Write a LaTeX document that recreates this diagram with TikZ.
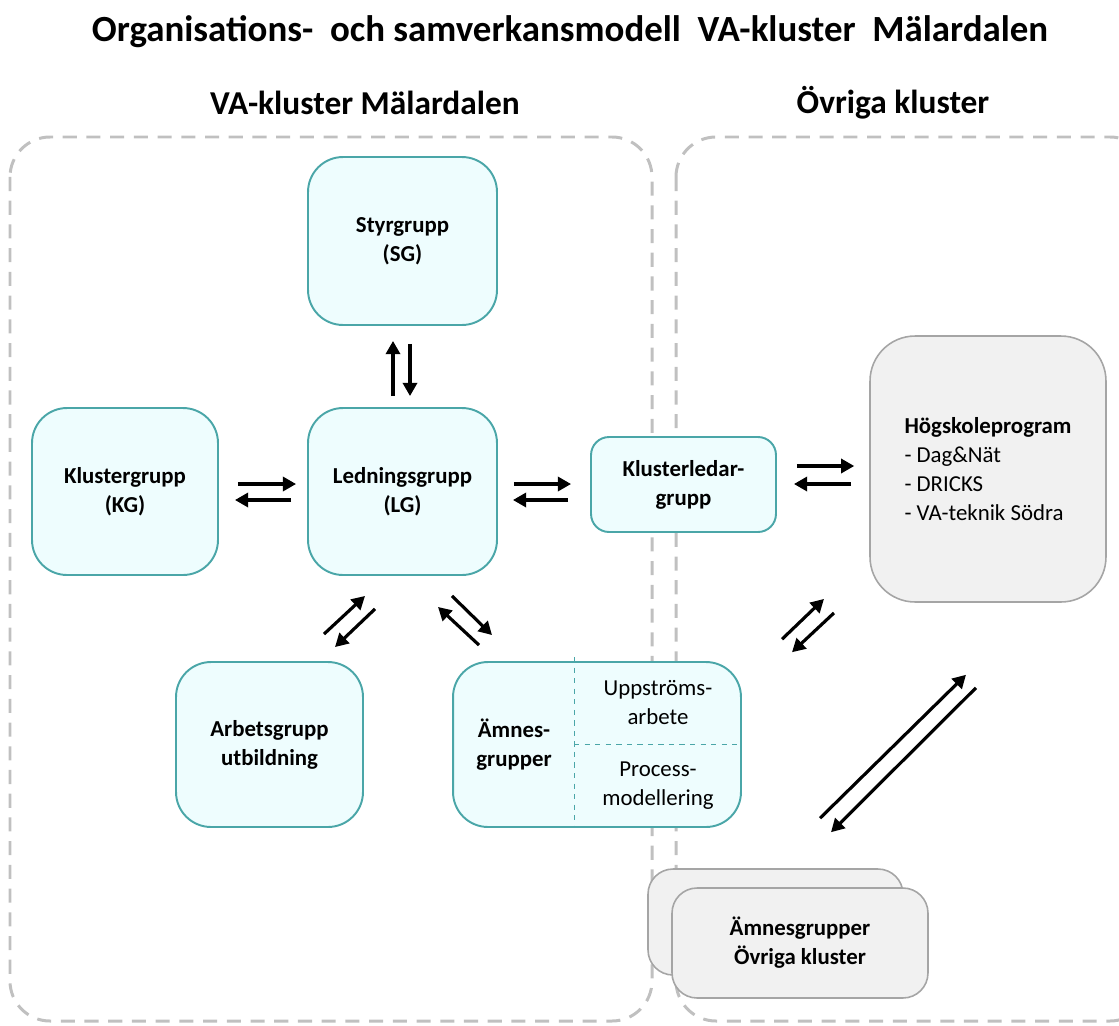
\documentclass[tikz,border=0pt]{standalone}
\usepackage{fontspec}
\setmainfont{Carlito}
\usetikzlibrary{arrows.meta,calc}
\definecolor{tealline}{RGB}{74,166,168}
\definecolor{tealfill}{RGB}{238,253,254}
\definecolor{greyline}{RGB}{165,165,165}
\definecolor{greyfill}{RGB}{241,241,241}
\definecolor{dashgrey}{RGB}{192,192,192}
\begin{document}
\begin{tikzpicture}[x=0.02cm,y=-0.02cm,
  box/.style={draw=tealline,fill=tealfill,line width=1.1pt,inner sep=0pt,align=center,
    rounded corners=0.7cm,font=\bfseries\fontsize{13}{16.5}\selectfont},
  greybox/.style={draw=greyline,fill=greyfill,line width=0.9pt,inner sep=0pt,align=center,
    font=\bfseries\fontsize{13}{16.5}\selectfont},
  frame/.style={draw=dashgrey,line width=1.7pt,dash pattern=on 8pt off 5.5pt,rounded corners=0.8cm},
  arr/.style={line width=1.8pt,-{Triangle[length=7.5pt,width=8pt]}},
  head/.style={font=\bfseries\fontsize{19}{22}\selectfont}]
  \useasboundingbox (0,0) rectangle (1119,1025);
  % titles and cluster frames
  \node[font=\bfseries\fontsize{21}{24}\selectfont] (title) at (570,32) {Organisations-\ \ och samverkansmodell\ \ VA-kluster\ \ Mälardalen};
  \node[head] (vahead) at (365,103) {VA-kluster Mälardalen};
  \node[head] (ovhead) at (893,103) {Övriga kluster};
  \draw[frame] (10,137) rectangle (652,1021);
  \draw[frame] (676,137) rectangle (1150,1021);
  % groups in VA-kluster
  \node[box,minimum width=3.78cm,minimum height=3.36cm] (sg) at (402.5,241) {Styrgrupp\\(SG)};
  \node[box,minimum width=3.78cm,minimum height=3.34cm] (lg) at (402.5,491.5) {Ledningsgrupp\\(LG)};
  \node[box,minimum width=3.72cm,minimum height=3.34cm] (kg) at (125,491.5) {Klustergrupp\\(KG)};
  \node[box,minimum width=3.7cm,minimum height=1.9cm,rounded corners=0.36cm] (klg) at (683.5,484.5) {Klusterledar-\\grupp};
  \node[box,minimum width=3.74cm,minimum height=3.3cm] (au) at (269.5,744.5) {Arbetsgrupp\\utbildning};
  \node[box,minimum width=5.76cm,minimum height=3.3cm] (ag) at (597,744.5) {};
  \node[font=\bfseries\fontsize{13}{16.5}\selectfont,align=center] (agname) at (514,745) {Ämnes-\\grupper};
  \node[font=\fontsize{13}{16.5}\selectfont,align=center] (upp) at (658,703) {Uppströms-\\arbete};
  \node[font=\fontsize{13}{16.5}\selectfont,align=center] (proc) at (658,786) {Process-\\modellering};
  \draw[tealline,line width=0.6pt,dashed] ($(ag.north west)+(122,-4)$) -- ($(ag.south west)+(122,0)$);
  \draw[tealline,line width=0.6pt,dashed] ($(ag.west)+(122,0)$) -- ($(ag.east)+(-5,0)$);
  % other clusters
  \node[greybox,minimum width=4.72cm,minimum height=5.32cm,rounded corners=0.9cm,align=left] (hp) at (988,469)
    {Högskoleprogram\\\mdseries - Dag\&Nät\\\mdseries - DRICKS\\\mdseries - VA-teknik Södra};
  \node[greybox,minimum width=5.1cm,minimum height=2.12cm,rounded corners=0.5cm] (ovback) at (775.5,922) {};
  \node[greybox,minimum width=5.12cm,minimum height=2.2cm,rounded corners=0.5cm] (ov) at (800,943) {Ämnesgrupper\\Övriga kluster};
  % arrows
  \draw[arr] ($(lg.north)+(-9.5,-11)$) -- ($(sg.south)+(-9.5,15)$);
  \draw[arr] ($(sg.south)+(7.5,18)$) -- ($(lg.north)+(7.5,-11)$);
  \draw[arr] ($(kg.east)+(19,-7.5)$) -- ($(lg.west)+(-11,-7.5)$);
  \draw[arr] ($(lg.west)+(-16,8.5)$) -- ($(kg.east)+(16,8.5)$);
  \draw[arr] ($(lg.east)+(16,-7.5)$) -- ($(klg.west)+(-19,-0.5)$);
  \draw[arr] ($(klg.west)+(-22,15.5)$) -- ($(lg.east)+(15,8.5)$);
  \draw[arr] ($(klg.east)+(20,-18.5)$) -- ($(hp.west)+(-15,-3)$);
  \draw[arr] ($(hp.west)+(-18,15)$) -- ($(klg.east)+(17,-0.5)$);
  \draw[arr] ($(au.north)+(54.5,-27)$) -- ($(lg.south)+(-37.5,20)$);
  \draw[arr] ($(lg.south)+(-27.5,33)$) -- ($(au.north)+(65.5,-14)$);
  \draw[arr] ($(ag.north)+(-118,-16)$) -- ($(lg.south)+(35.5,31)$);
  \draw[arr] ($(lg.south)+(49.5,20)$) -- ($(ag.north)+(-105,-26)$);
  \draw[arr] ($(ov.north)+(-18,-248)$) -- ($(klg.south east)+(47,66)$);
  \draw[arr] ($(klg.south east)+(57,80)$) -- ($(ov.north)+(-8,-235)$);
  \draw[arr] ($(ov.north)+(20,-69)$) -- ($(hp.south)+(-22,72)$);
  \draw[arr] ($(hp.south)+(-12,85)$) -- ($(ov.north)+(31,-55)$);
\end{tikzpicture}
\end{document}
